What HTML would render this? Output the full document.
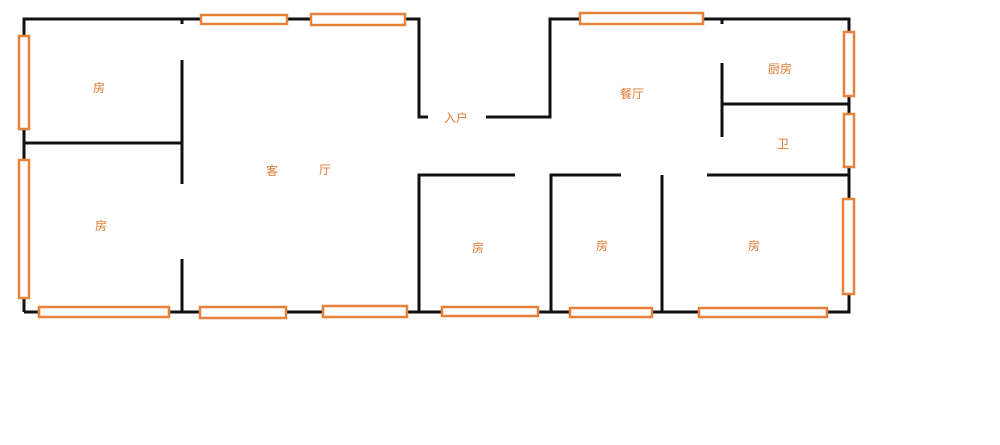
<!DOCTYPE html>
<html><head><meta charset="utf-8"><style>
body{margin:0;background:#fff;width:1000px;height:445px;overflow:hidden}
svg{display:block}
text{font-family:"Liberation Sans","Noto Sans CJK SC",sans-serif;font-size:12px;fill:#e07a30}
</style></head><body>
<svg width="1000" height="445" viewBox="0 0 1000 445">
<g stroke="#111" stroke-width="3" fill="none">
<path d="M24 312V19H419V117H428"/>
<path d="M486 117H550V19H849V312H24"/>
<path d="M24 143H182"/>
<path d="M182 60V184M182 259V312M182 19V24"/>
<path d="M722 104H849M722 63V137M722 19V24"/>
<path d="M419 312V175H515M551 312V175H621M662 312V175M707 175H849"/>
</g>
<g stroke="#e8823a" stroke-width="2.5" fill="#fff">
<rect x="201" y="15" width="86" height="9"/>
<rect x="311" y="14" width="94" height="11"/>
<rect x="580" y="13" width="123" height="11"/>
<rect x="844" y="32" width="10" height="64"/>
<rect x="844" y="114" width="10" height="53"/>
<rect x="843" y="199" width="11" height="95"/>
<rect x="19" y="36" width="10" height="93"/>
<rect x="19" y="160" width="10" height="138"/>
<rect x="39" y="307" width="130" height="10"/>
<rect x="200" y="307" width="86" height="11"/>
<rect x="323" y="306" width="84" height="11"/>
<rect x="442" y="307" width="96" height="9"/>
<rect x="570" y="308" width="82" height="9"/>
<rect x="699" y="308" width="128" height="9"/>
</g>
<text x="93" y="92">房</text>
<text x="95" y="230">房</text>
<text x="266" y="175">客</text>
<text x="319" y="174">厅</text>
<text x="444" y="122">入户</text>
<text x="620" y="98">餐厅</text>
<text x="768" y="73">厨房</text>
<text x="777" y="148">卫</text>
<text x="472" y="252">房</text>
<text x="596" y="250">房</text>
<text x="748" y="250">房</text>
</svg>
</body></html>
